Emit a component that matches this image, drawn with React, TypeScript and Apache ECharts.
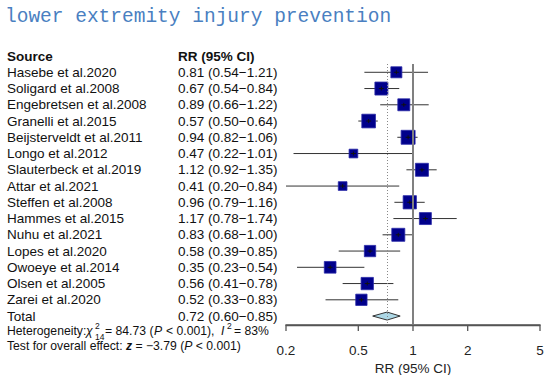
import React, { useEffect, useRef } from "react";
import * as echarts from "echarts";

const studies = [
  "Hasebe et al.2020",
  "Soligard et al.2008",
  "Engebretsen et al.2008",
  "Granelli et al.2015",
  "Beijsterveldt et al.2011",
  "Longo et al.2012",
  "Slauterbeck et al.2019",
  "Attar et al.2021",
  "Steffen et al.2008",
  "Hammes et al.2015",
  "Nuhu et al.2021",
  "Lopes et al.2020",
  "Owoeye et al.2014",
  "Olsen et al.2005",
  "Zarei et al.2020",
];
const rr = [0.81, 0.67, 0.89, 0.57, 0.94, 0.47, 1.12, 0.41, 0.96, 1.17, 0.83, 0.58, 0.35, 0.56, 0.52];
const lower = [0.54, 0.54, 0.66, 0.5, 0.82, 0.22, 0.92, 0.2, 0.79, 0.78, 0.68, 0.39, 0.23, 0.41, 0.33];
const upper = [1.21, 0.84, 1.22, 0.64, 1.06, 1.01, 1.35, 0.84, 1.16, 1.74, 1.0, 0.85, 0.54, 0.78, 0.83];
const weights = [5.6, 7.8, 6.6, 8.6, 9.0, 3.5, 7.8, 3.5, 8.1, 6.6, 7.8, 5.9, 6.3, 7.0, 5.9];

const totalLabel = "Total";
const totalRR = 0.72;
const totalLower = 0.6;
const totalUpper = 0.85;

const xTicks = [0.2, 0.5, 1, 2, 5];

const Y_MIN = -0.51;
const Y_MAX = 15.55;
const TICK_ROWS = 0.37;

const FONT = "'Liberation Sans', Arial, sans-serif";

const fmtCI = (m: number, l: number, u: number) =>
  `${m.toFixed(2)} (${l.toFixed(2)}\u2212${u.toFixed(2)})`;

export default function App() {
  const ref = useRef<HTMLDivElement>(null);

  useEffect(() => {
    if (!ref.current) return;
    const chart = echarts.init(ref.current, null, { renderer: "svg" });

    const studyData = rr.map((m, i) => [m, i, lower[i], upper[i], weights[i]]);
    const totalRow = studies.length;

    const textRows: any[] = [
      { value: [1, -1], name: "Source", ci: "RR (95% CI)", bold: true },
      ...studies.map((s, i) => ({ value: [1, i], name: s, ci: fmtCI(rr[i], lower[i], upper[i]), bold: false })),
      { value: [1, totalRow], name: totalLabel, ci: fmtCI(totalRR, totalLower, totalUpper), bold: false },
    ];

    const small = { fontFamily: FONT, fontSize: 12.2, fill: "#111", verticalAlign: "middle" };
    const sup = { ...small, fontSize: 8.5 };
    const ital = { ...small, fontStyle: "italic" };
    const hy = 331;

    const axisLineStyle = { color: "#555", width: 1.3, type: "solid" };

    const option: any = {
      animation: false,
      backgroundColor: "#ffffff",
      grid: { left: 286, right: 10, top: 64, bottom: 50, containLabel: false, outerBoundsMode: "none" },
      xAxis: {
        type: "log",
        logBase: 10,
        min: 0.2,
        max: 5,
        splitLine: { show: false },
        axisLine: { show: false },
        axisTick: { show: false },
        axisLabel: {
          show: true,
          customValues: xTicks,
          margin: 18,
          fontSize: 13.5,
          fontFamily: FONT,
          color: "#222",
          formatter: (v: number) => String(Math.round(v * 10) / 10),
        },
        name: "RR (95% CI)",
        nameLocation: "middle",
        nameGap: 32,
        nameTextStyle: { fontSize: 13.5, fontFamily: FONT, color: "#222" },
      },
      yAxis: {
        type: "value",
        inverse: true,
        min: Y_MIN,
        max: Y_MAX,
        show: false,
      },
      series: [
        {
          type: "line",
          data: [],
          silent: true,
          clip: false,
          markLine: {
            silent: true,
            symbol: "none",
            label: { show: false },
            data: [
              { xAxis: 1, lineStyle: { color: "#808080", width: 2, type: "solid" } },
              { xAxis: totalRR, lineStyle: { color: "#888", width: 1, type: [1, 2] } },
              { yAxis: Y_MAX, lineStyle: axisLineStyle },
              ...xTicks.map((v) => [
                { coord: [v, Y_MAX], lineStyle: axisLineStyle },
                { coord: [v, Y_MAX + TICK_ROWS] },
              ]),
            ],
          },
        },
        {
          type: "custom",
          data: studyData,
          clip: false,
          renderItem: (_p: any, api: any) => {
            const row = api.value(1);
            const c = api.coord([api.value(0), row]);
            const l = api.coord([api.value(2), row]);
            const h = api.coord([api.value(3), row]);
            const side = 4.66 * Math.sqrt(api.value(4));
            return {
              type: "group",
              children: [
                { type: "line", shape: { x1: l[0], y1: l[1], x2: h[0], y2: h[1] }, style: { stroke: "#333", lineWidth: 1 } },
                {
                  type: "rect",
                  shape: { x: c[0] - side / 2, y: c[1] - side / 2, width: side, height: side },
                  style: { fill: "#00008b", stroke: "#2a2aa8", lineWidth: 0.8 },
                },
                { type: "line", shape: { x1: c[0] - 2.5, y1: c[1], x2: c[0] + 2.5, y2: c[1] }, style: { stroke: "#111", lineWidth: 1 } },
                { type: "line", shape: { x1: c[0], y1: c[1] - 2, x2: c[0], y2: c[1] + 2 }, style: { stroke: "#111", lineWidth: 1 } },
              ],
            };
          },
        },
        {
          // pooled diamond, plus a rect-based copy of the x axis line and ticks
          type: "custom",
          data: [[totalRR, totalRow, totalLower, totalUpper]],
          clip: false,
          renderItem: (_p: any, api: any) => {
            const row = api.value(1);
            const c = api.coord([api.value(0), row]);
            const l = api.coord([api.value(2), row]);
            const h = api.coord([api.value(3), row]);
            const a = api.coord([xTicks[0], Y_MAX]);
            const b = api.coord([xTicks[xTicks.length - 1], Y_MAX]);
            const ticks = xTicks.map((v) => {
              const t = api.coord([v, Y_MAX]);
              return { type: "rect", shape: { x: t[0] - 0.65, y: t[1], width: 1.3, height: 6 }, style: { fill: "#555" } };
            });
            return {
              type: "group",
              children: [
                {
                  type: "polygon",
                  shape: { points: [[l[0], l[1]], [c[0], c[1] - 4], [h[0], h[1]], [c[0], c[1] + 4]] },
                  style: { fill: "#add8e6", stroke: "#333", lineWidth: 1 },
                },
                { type: "rect", shape: { x: a[0] - 0.65, y: a[1] - 0.65, width: b[0] - a[0] + 1.3, height: 1.3 }, style: { fill: "#555" } },
                ...ticks,
              ],
            };
          },
        },
        {
          type: "custom",
          data: textRows,
          clip: false,
          silent: true,
          renderItem: (p: any, api: any) => {
            const item = textRows[p.dataIndex];
            const y = api.coord([1, api.value(1)])[1];
            const base = {
              fontFamily: FONT,
              fontSize: 13.5,
              fontWeight: item.bold ? "bold" : "normal",
              fill: "#111",
              verticalAlign: "middle",
              align: "left",
            };
            return {
              type: "group",
              children: [
                { type: "text", x: 7, y, style: { ...base, text: item.name } },
                { type: "text", x: 178, y, style: { ...base, text: item.ci } },
              ],
            };
          },
        },
      ],
      graphic: [
        {
          type: "text",
          left: 5,
          top: 7,
          style: {
            text: "lower extremity injury prevention",
            fontFamily: "'Liberation Mono', 'DejaVu Sans Mono', monospace",
            fontSize: 19.5,
            fill: "#4a7fc1",
          },
        },
        { type: "text", x: 7, y: hy, style: { ...small, text: "Heterogeneity:" } },
        { type: "text", x: 86, y: hy, style: { ...ital, text: "\u03c7" } },
        { type: "text", x: 95, y: hy + 5.5, style: { ...sup, text: "14" } },
        { type: "text", x: 95, y: hy - 4.8, style: { ...sup, text: "2" } },
        { type: "text", x: 105, y: hy, style: { ...small, text: "= 84.73 (" } },
        { type: "text", x: 154, y: hy, style: { ...ital, text: "P" } },
        { type: "text", x: 166, y: hy, style: { ...small, text: "< 0.001)," } },
        { type: "text", x: 221, y: hy, style: { ...ital, text: "I" } },
        { type: "text", x: 227, y: hy - 5, style: { ...sup, text: "2" } },
        { type: "text", x: 234, y: hy, style: { ...small, text: "= 83%" } },
        {
          type: "text",
          x: 7,
          y: 345.5,
          style: {
            ...small,
            text: "Test for overall effect: {b|z} = \u22123.79 ({i|P} < 0.001)",
            rich: {
              b: { fontWeight: "bold", fontStyle: "italic", fontSize: 12.2, fontFamily: FONT, fill: "#111" },
              i: { fontStyle: "italic", fontSize: 12.2, fontFamily: FONT, fill: "#111" },
            },
          },
        },
      ],
    };

    chart.setOption(option);
    return () => chart.dispose();
  }, []);

  return (
    <div
      ref={ref}
      style={{ position: "fixed", left: 0, top: 0, width: 550, height: 375, background: "#fff" }}
    />
  );
}
